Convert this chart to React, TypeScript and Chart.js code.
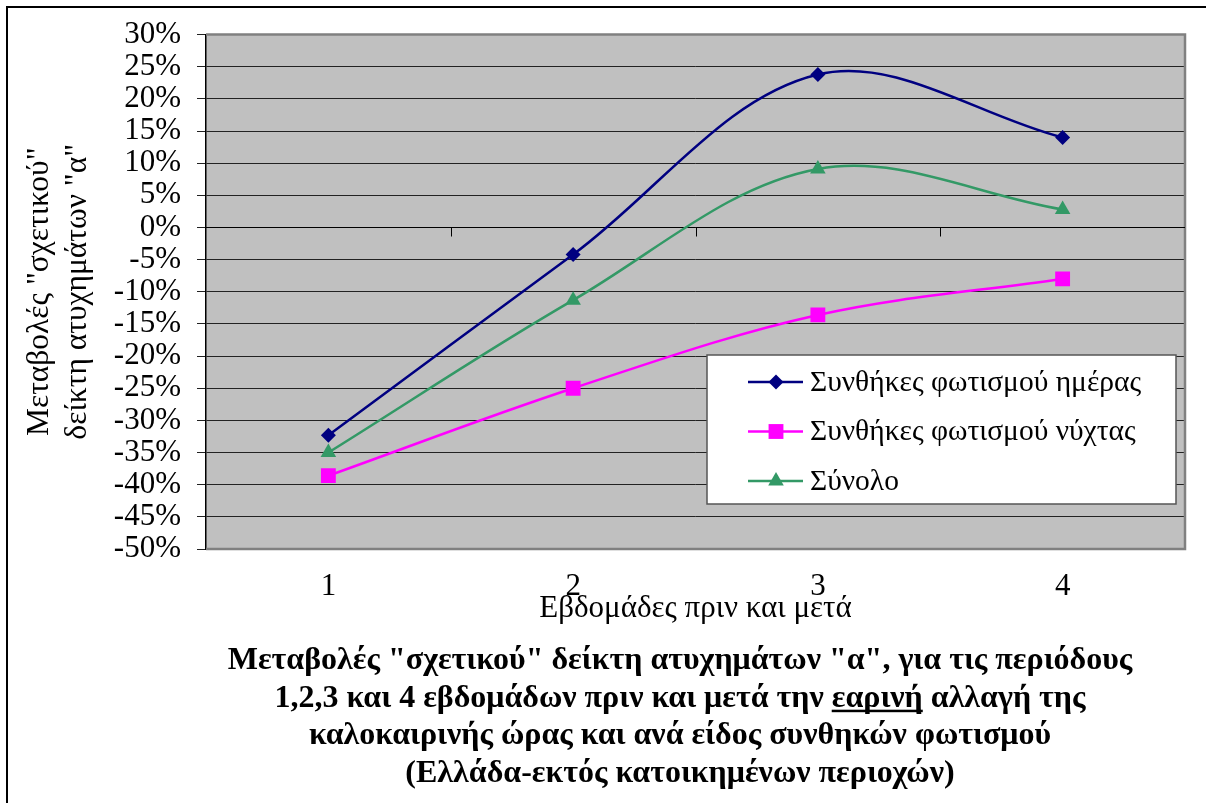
import React, { useEffect, useRef } from 'react';
import { Chart, registerables } from 'chart.js';

Chart.register(...registerables);

const FONT = '"Liberation Serif", "Times New Roman", serif';

const categories = ['1', '2', '3', '4'];
const dayValues = [-32.3, -4.2, 23.8, 14.0];
const nightValues = [-38.6, -25.0, -13.6, -8.0];
const totalValues = [-35.0, -11.3, 9.1, 2.8];
const seriesNames = ['Συνθήκες φωτισμού ημέρας', 'Συνθήκες φωτισμού νύχτας', 'Σύνολο'];
const seriesColors = ['#000080', '#FF00FF', '#339966'];
const seriesMarkers = ['rectRot', 'rect', 'triangle'];
const markerRadii = [7.5, 10.5, 9];

const yMin = -50;
const yMax = 30;
const yStep = 5;

const yTitle = ['Μεταβολές "σχετικού"', 'δείκτη ατυχημάτων "α"'];
const xTitle = 'Εβδομάδες πριν και μετά';
// each line: list of [text, underlined]
const titleLines: [string, boolean][][] = [
  [['Μεταβολές "σχετικού" δείκτη ατυχημάτων "α", για τις περιόδους', false]],
  [['1,2,3 και 4 εβδομάδων πριν και μετά την ', false], ['εαρινή', true], [' αλλαγή της', false]],
  [['καλοκαιρινής ώρας και ανά είδος συνθηκών φωτισμού', false]],
  [['(Ελλάδα-εκτός κατοικημένων περιοχών)', false]],
];

function drawMarker(ctx: CanvasRenderingContext2D, kind: string, x: number, y: number, r: number, color: string) {
  ctx.save();
  ctx.fillStyle = color;
  ctx.beginPath();
  if (kind === 'rectRot') {
    ctx.moveTo(x, y - r);
    ctx.lineTo(x + r, y);
    ctx.lineTo(x, y + r);
    ctx.lineTo(x - r, y);
  } else if (kind === 'rect') {
    const s = r * Math.SQRT1_2;
    ctx.rect(x - s, y - s, 2 * s, 2 * s);
  } else {
    const h = Math.sin(Math.PI / 3) * r;
    ctx.moveTo(x, y - r);
    ctx.lineTo(x + h, y + r / 2);
    ctx.lineTo(x - h, y + r / 2);
  }
  ctx.closePath();
  ctx.fill();
  ctx.restore();
}

const decorPlugin = {
  id: 'decor',
  beforeDraw(chart: any) {
    const { ctx, chartArea: a } = chart;
    ctx.save();
    ctx.fillStyle = '#ffffff';
    ctx.fillRect(0, 0, chart.width, chart.height);
    ctx.fillStyle = '#C0C0C0';
    ctx.fillRect(a.left, a.top, a.right - a.left, a.bottom - a.top);
    ctx.strokeStyle = '#000';
    ctx.lineWidth = 2;
    ctx.strokeRect(7, 7, chart.width, chart.height);
    ctx.restore();
  },
  beforeDatasetsDraw(chart: any) {
    const { ctx, chartArea: a } = chart;
    const xs = chart.scales.x;
    const ys = chart.scales.y;
    ctx.save();
    // plot-area border (top, right, bottom)
    ctx.strokeStyle = '#808080';
    ctx.lineWidth = 2.5;
    ctx.beginPath();
    ctx.moveTo(a.left, a.top);
    ctx.lineTo(a.right, a.top);
    ctx.lineTo(a.right, a.bottom);
    ctx.lineTo(a.left, a.bottom);
    ctx.stroke();
    // category axis crossing at 0
    const y0 = Math.round(ys.getPixelForValue(0)) + 0.5;
    ctx.strokeStyle = '#000';
    ctx.lineWidth = 1;
    ctx.beginPath();
    ctx.moveTo(a.left, y0);
    ctx.lineTo(a.right, y0);
    for (let i = 1; i < categories.length; i++) {
      const bx = Math.round((xs.getPixelForValue(i - 1) + xs.getPixelForValue(i)) / 2) + 0.5;
      ctx.moveTo(bx, y0);
      ctx.lineTo(bx, y0 + 9);
    }
    ctx.stroke();
    ctx.restore();
  },
  afterDraw(chart: any) {
    const { ctx, chartArea: a } = chart;
    ctx.save();
    // legend box
    const lx = a.right - 478;
    const ly = a.bottom - 194;
    const lw = 469;
    const lh = 149;
    ctx.fillStyle = '#ffffff';
    ctx.fillRect(lx, ly, lw, lh);
    ctx.strokeStyle = '#555';
    ctx.lineWidth = 1.5;
    ctx.strokeRect(lx, ly, lw, lh);
    ctx.font = `29.5px ${FONT}`;
    ctx.textBaseline = 'middle';
    ctx.textAlign = 'left';
    for (let i = 0; i < seriesNames.length; i++) {
      const ry = ly + 27 + i * 49.5;
      ctx.strokeStyle = seriesColors[i];
      ctx.lineWidth = 2.5;
      ctx.beginPath();
      ctx.moveTo(lx + 41, ry);
      ctx.lineTo(lx + 96, ry);
      ctx.stroke();
      drawMarker(ctx, seriesMarkers[i], lx + 69, ry, markerRadii[i], seriesColors[i]);
      ctx.fillStyle = '#000';
      ctx.fillText(seriesNames[i], lx + 103, ry + 1);
    }
    // bottom title
    ctx.font = `bold 32px ${FONT}`;
    ctx.textBaseline = 'alphabetic';
    ctx.fillStyle = '#000';
    const cx = 680;
    titleLines.forEach((parts, li) => {
      const by = 669 + li * 37.7;
      const total = parts.reduce((s, p) => s + ctx.measureText(p[0]).width, 0);
      let x = cx - total / 2;
      parts.forEach(([t, u]) => {
        const w = ctx.measureText(t).width;
        ctx.fillText(t, x, by);
        if (u) {
          ctx.fillRect(x, by + 3, w, 2.5);
        }
        x += w;
      });
    });
    ctx.restore();
  },
};

export default function App() {
  const ref = useRef<HTMLCanvasElement | null>(null);
  useEffect(() => {
    if (!ref.current) return;
    const datasets = [dayValues, nightValues, totalValues].map((vals, i) => ({
      label: seriesNames[i],
      data: vals,
      borderColor: seriesColors[i],
      backgroundColor: seriesColors[i],
      borderWidth: 2.5,
      pointStyle: seriesMarkers[i] as any,
      pointRadius: markerRadii[i],
      pointBorderWidth: 0,
      pointBackgroundColor: seriesColors[i],
      tension: 0.35,
      fill: false,
    }));
    const chart = new Chart(ref.current, {
      type: 'line',
      data: { labels: categories, datasets },
      plugins: [decorPlugin],
      options: {
        animation: false,
        responsive: false,
        devicePixelRatio: 1,
        layout: { padding: { left: 0, top: 34, right: 21, bottom: 0 } },
        plugins: {
          legend: { display: false },
          title: { display: false },
          tooltip: { enabled: false },
        },
        scales: {
          x: {
            type: 'category',
            offset: true,
            grid: { display: false },
            border: { display: false },
            ticks: {
              color: '#000',
              font: { family: FONT, size: 31 },
              padding: 11,
              maxRotation: 0,
              autoSkip: false,
            },
            title: {
              display: true,
              text: xTitle,
              color: '#000',
              font: { family: FONT, size: 31 },
              padding: { top: 0, bottom: 176 },
            },
            afterFit: (s: any) => {
              s.height = 254;
            },
          },
          y: {
            min: yMin,
            max: yMax,
            ticks: {
              stepSize: yStep,
              autoSkip: false,
              color: '#000',
              font: { family: FONT, size: 31 },
              padding: 16,
              callback: (v: any) => `${v}%`,
            },
            grid: { color: '#222', lineWidth: 1, tickLength: 9, drawTicks: true },
            border: { display: true, color: '#000', width: 1.5 },
            title: {
              display: true,
              text: yTitle,
              color: '#000',
              font: { family: FONT, size: 31.5, lineHeight: 1.2 },
              padding: { top: 21, bottom: 0 },
            },
            afterFit: (s: any) => {
              s.width = 206;
            },
          },
        },
      },
    });
    return () => chart.destroy();
  }, []);
  return (
    <div style={{ position: 'absolute', left: 0, top: 0, width: 1206, height: 803 }}>
      <canvas ref={ref} width={1206} height={803} style={{ display: 'block', width: 1206, height: 803 }} />
    </div>
  );
}
